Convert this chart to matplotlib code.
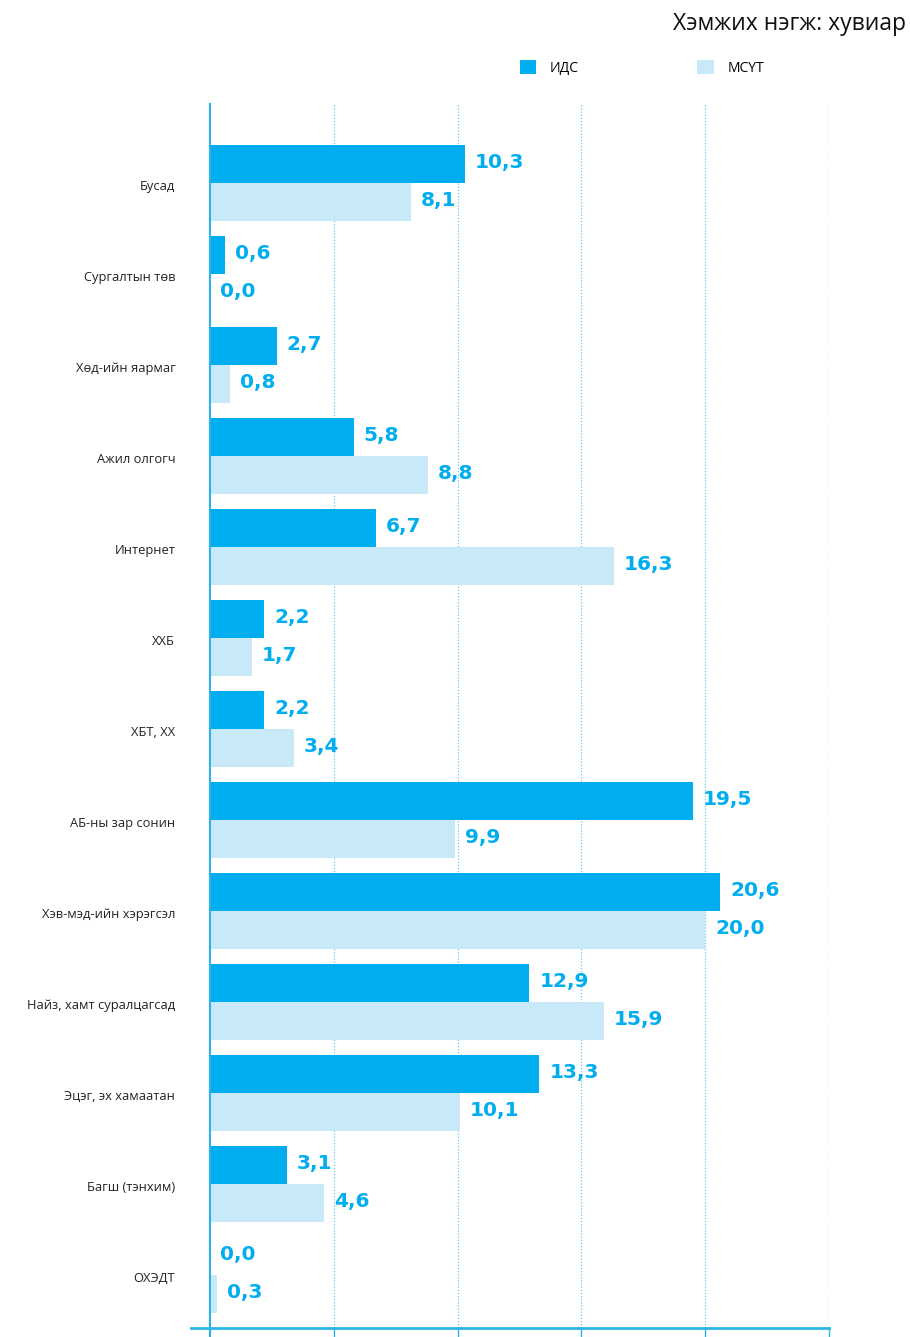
import matplotlib
matplotlib.use('Agg')
import matplotlib.pyplot as plt
import numpy as np

plt.rcParams['font.family'] = ['Open Sans', 'DejaVu Sans']

categories = ['Бусад', 'Сургалтын төв', 'Хөд-ийн яармаг', 'Ажил олгогч', 'Интернет',
              'ХХБ', 'ХБТ, ХХ', 'АБ-ны зар сонин', 'Хэв-мэд-ийн хэрэгсэл',
              'Найз, хамт суралцагсад', 'Эцэг, эх хамаатан', 'Багш (тэнхим)', 'ОХЭДТ']
ids = [10.3, 0.6, 2.7, 5.8, 6.7, 2.2, 2.2, 19.5, 20.6, 12.9, 13.3, 3.1, 0.0]
msut = [8.1, 0.0, 0.8, 8.8, 16.3, 1.7, 3.4, 9.9, 20.0, 15.9, 10.1, 4.6, 0.3]
series_names = ['ИДС', 'МСҮТ']

dark = '#00AEEF'
light = '#C8E9F8'
axis_col = '#2BB5E6'

fig = plt.figure(figsize=(9.1, 13.37), dpi=100)
ax = fig.add_axes([210/910, 9/1337, (829-210)/910, (1328-104)/1337])

y = np.arange(len(categories))
h = 0.418
ax.barh(y - h/2, ids, height=h, color=dark, label=series_names[0])
ax.barh(y + h/2, msut, height=h, color=light, label=series_names[1])

for yi, v in zip(y, ids):
    ax.text(v + 0.4, yi - h/2 - 0.02, f'{v:.1f}'.replace('.', ','), va='center', ha='left',
            color=dark, fontsize=14.5, fontweight='bold', family='DejaVu Sans')
for yi, v in zip(y, msut):
    ax.text(v + 0.4, yi + h/2 - 0.02, f'{v:.1f}'.replace('.', ','), va='center', ha='left',
            color=dark, fontsize=14.5, fontweight='bold', family='DejaVu Sans')

ax.set_xlim(0, 25)
ax.set_ylim(12 + 53/91, -79/91)
ax.set_xticks([5, 10, 15, 20, 25])
ax.set_xticklabels([])
ax.set_yticks(y + 0.02)
ax.set_yticklabels(categories, fontsize=9.3, color='#222222')
ax.tick_params(axis='y', length=0, pad=25)
ax.tick_params(axis='x', length=8, color=axis_col, width=1, direction='out')
ax.xaxis.grid(True, linestyle=(0, (1, 1.5)), color='#6CC8EC', linewidth=0.9)
ax.set_axisbelow(True)
for s in ['top', 'right']:
    ax.spines[s].set_visible(False)
ax.spines['bottom'].set_color(axis_col)
ax.spines['bottom'].set_linewidth(2)
ax.spines['bottom'].set_bounds(-0.75, 25)
ax.spines['left'].set_color(axis_col)
ax.spines['left'].set_linewidth(1.5)
ax.spines['left'].set_bounds(12 + 53/91 + 0.12, -79/91)
ax.spines['left'].set_clip_on(False)
ax.spines['bottom'].set_clip_on(False)

fig.text(906/910, 1 - 24/1337, 'Хэмжих нэгж: хувиар', ha='right', va='center',
         fontsize=16.5, color='#111111')
fig.legend(loc='center left', bbox_to_anchor=(507/910, 1 - 68/1337), ncol=2,
           frameon=False, fontsize=10, handlelength=1.2, handleheight=1.2,
           columnspacing=8.5, handletextpad=1.0)

fig.savefig('out.png', dpi=100)
